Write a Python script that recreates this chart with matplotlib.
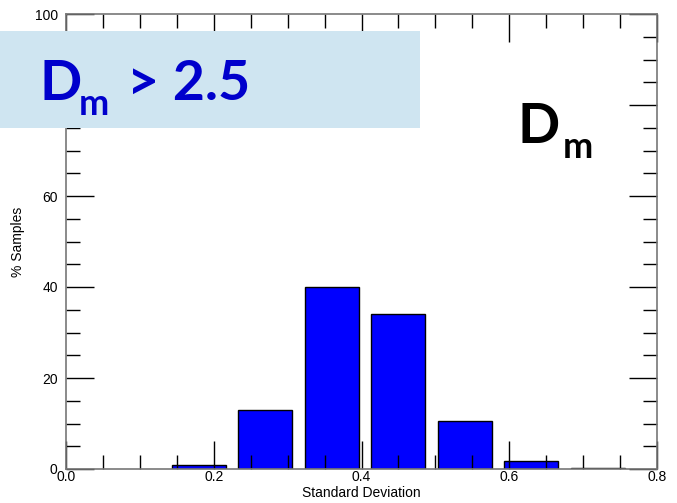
import matplotlib
matplotlib.use("Agg")
import matplotlib.pyplot as plt
from matplotlib.ticker import MultipleLocator
from matplotlib.patches import Rectangle

bin_centers = [0.18, 0.27, 0.36, 0.45, 0.54, 0.63, 0.72]
pct_samples = [0.8, 13.0, 40.0, 34.0, 10.6, 1.8, 0.3]
bar_width = 0.073
x_ticks = [0.0, 0.2, 0.4, 0.6, 0.8]
y_ticks = [0, 20, 40, 60, 80, 100]

plt.rcParams['font.family'] = ['Liberation Sans', 'DejaVu Sans']

fig = plt.figure(figsize=(6.77, 5.03), dpi=100)
ax = fig.add_axes([66/677, 34/503, 591/677, 455/503])

ax.bar(bin_centers, pct_samples, width=bar_width, color='#0000ff',
       edgecolor='black', linewidth=1.0)

ax.set_xlim(0, 0.8)
ax.set_ylim(0, 100)
ax.set_xticks(x_ticks)
ax.set_xticklabels(['0.0', '0.2', '0.4', '0.6', '0.8'])
ax.set_yticks(y_ticks)
ax.xaxis.set_minor_locator(MultipleLocator(0.05))
ax.yaxis.set_minor_locator(MultipleLocator(5))
ax.tick_params(which='both', direction='in', top=True, right=True,
               color='black', width=1, labelsize=10)
ax.tick_params(which='major', length=20)
ax.tick_params(which='minor', length=10)
ax.tick_params(axis='x', which='major', pad=1)
ax.tick_params(axis='y', which='major', pad=6)
for s in ax.spines.values():
    s.set_color('#777777')
    s.set_linewidth(1.2)

ax.set_xlabel('Standard Deviation', fontsize=10, labelpad=1)
ax.set_ylabel('% Samples', fontsize=10, labelpad=7)

# overlay box with label
fig.patches.append(Rectangle((0, 1 - 128/503), 420/677, 97/503,
                             transform=fig.transFigure, facecolor='#cfe5f1',
                             edgecolor='none', zorder=5))

def dm_label(x_px, base_px, sub_base_px, m_x_px, color, rest=None, rest_x_px=None):
    fig.text(x_px/677, 1 - base_px/503, 'D', fontsize=40, fontfamily='Lato',
             fontweight='bold', color=color, ha='left', va='baseline', zorder=6)
    fig.text(m_x_px/677, 1 - sub_base_px/503, 'm', fontsize=26, fontfamily='Lato',
             fontweight='bold', color=color, ha='left', va='baseline', zorder=6)
    if rest is not None:
        fig.text(rest_x_px/677, 1 - base_px/503, rest, fontsize=40, fontfamily='Lato',
                 fontweight='bold', color=color, ha='left', va='baseline', zorder=6)

dm_label(39, 100, 115, 79, '#0000cc', rest='> 2.5', rest_x_px=127)
dm_label(518, 143, 158, 563, 'black')

fig.savefig('out.png', dpi=100)
